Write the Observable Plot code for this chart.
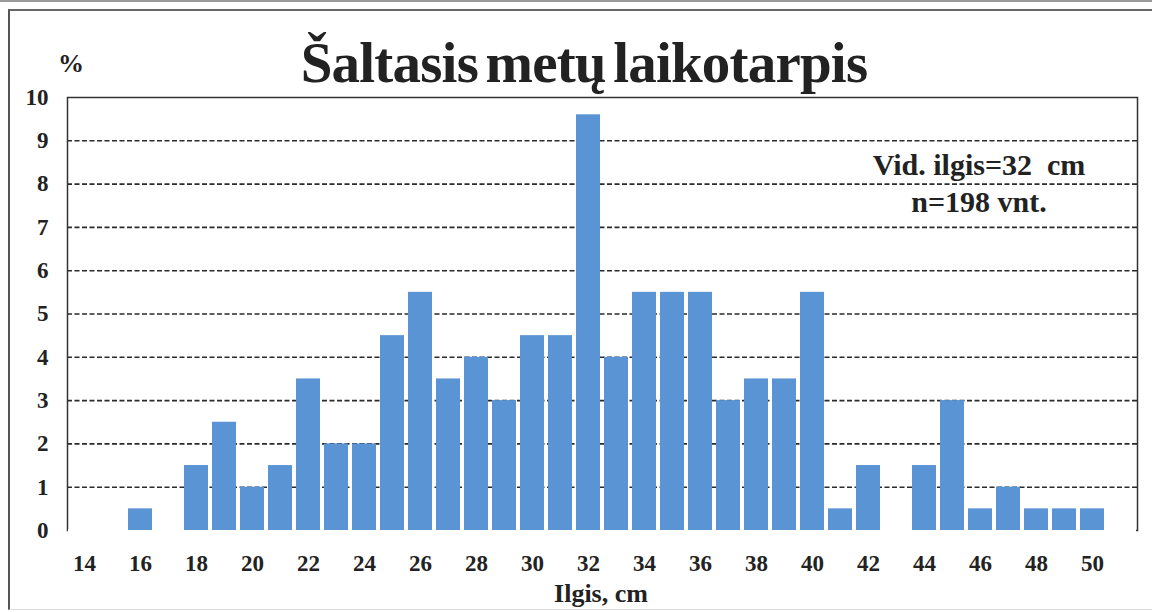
<!DOCTYPE html>
<html><head><meta charset="utf-8">
<script src="https://cdn.jsdelivr.net/npm/d3@7"></script>
<script src="https://cdn.jsdelivr.net/npm/@observablehq/plot@0.6"></script>
<style>
body{margin:0;background:#fff;width:1152px;height:612px;overflow:hidden;position:relative;font-family:"Liberation Serif","Times New Roman",serif;}
#chart{position:absolute;left:0;top:0;}
.t{position:absolute;font-weight:bold;color:#222;white-space:nowrap;text-align:center;}
</style></head><body>
<div style="position:absolute;left:0;top:0;width:1152px;height:0;border-top:2px solid #999"></div>
<div style="position:absolute;left:8px;top:9px;width:1150px;height:598px;border-left:2px solid #555;border-top:2px solid #666;border-bottom:1px solid #ddd"></div>
<div id="chart"></div>
<div class="t" id="title" style="left:284px;width:600px;top:34px;font-size:57px;line-height:57px;letter-spacing:-0.8px;word-spacing:-6px;">Šaltasis metų laikotarpis</div>
<div class="t" style="left:51px;width:40px;top:51px;font-size:26px;line-height:26px;">%</div>
<div class="t" style="left:829px;width:300px;top:150px;font-size:30px;line-height:30px;">Vid. ilgis=32&nbsp; cm</div>
<div class="t" style="left:829px;width:300px;top:187px;font-size:30px;line-height:30px;">n=198 vnt.</div>
<div class="t" style="left:451px;width:300px;top:581px;font-size:26px;line-height:26px;">Ilgis, cm</div>
<script>
const lengths = [14,15,16,17,18,19,20,21,22,23,24,25,26,27,28,29,30,31,32,33,34,35,36,37,38,39,40,41,42,43,44,45,46,47,48,49,50,51];
const percents = [0,0,0.5,0,1.5,2.5,1,1.5,3.5,2,2,4.5,5.5,3.5,4,3,4.5,4.5,9.6,4,5.5,5.5,5.5,3,3.5,3.5,5.5,0.5,1.5,0,1.5,3,0.5,1,0.5,0.5,0.5,0];
const xTickLabels = [14,16,18,20,22,24,26,28,30,32,34,36,38,40,42,44,46,48,50];
const yTicks = [0,1,2,3,4,5,6,7,8,9,10];
const gridValues = [1,2,3,4,5,6,7,8,9];

const data = lengths.map((l, i) => ({l, p: percents[i]}));

const chart = Plot.plot({
  width: 1152, height: 612,
  marginLeft: 67, marginRight: 15, marginTop: 97, marginBottom: 82,
  style: {fontFamily: "'Liberation Serif','Times New Roman',serif", fontWeight: "bold", fontSize: "23px", color: "#222", background: "transparent"},
  x: {type: "band", domain: lengths, paddingInner: 0.15, paddingOuter: 0},
  y: {domain: [0, 10]},
  marks: [
    Plot.ruleY(gridValues, {stroke: "#2a2a2a", strokeWidth: 1.6, strokeDasharray: "5,2.5"}),
    Plot.frame({stroke: "#333", strokeWidth: 1.5}),
    Plot.ruleY([0], {stroke: "white", strokeWidth: 3, insetLeft: 1, insetRight: 1}),
    Plot.barY(data, {x: "l", y: "p", fill: "#5a94d4"}),
    Plot.axisX(xTickLabels, {tickSize: 0, tickPadding: 24, label: null, fontSize: 23}),
    Plot.axisY(yTicks, {tickSize: 0, tickPadding: 19, label: null, fontSize: 23})
  ]
});
document.getElementById("chart").appendChild(chart);
</script>
</body></html>
